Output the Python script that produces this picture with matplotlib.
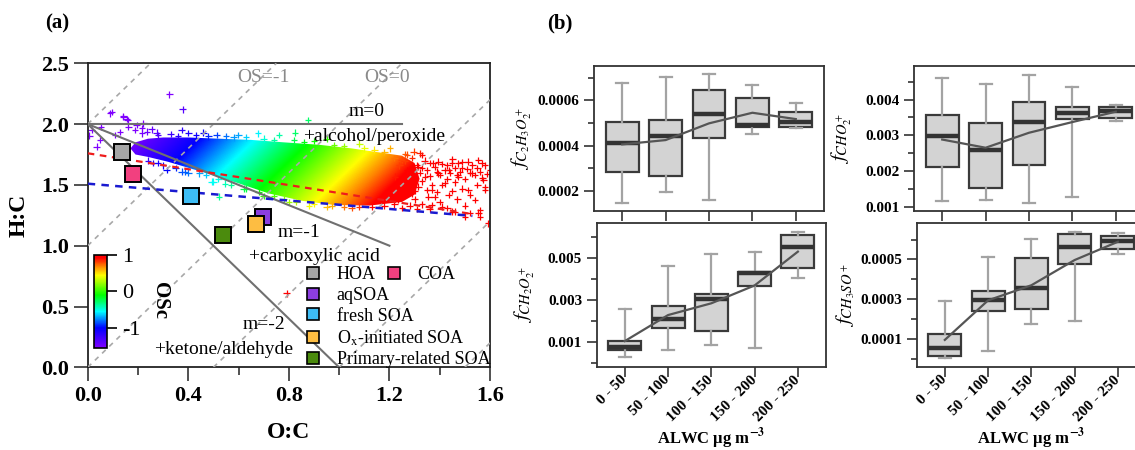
import numpy as np
import matplotlib
matplotlib.use('Agg')
import matplotlib.pyplot as plt
from matplotlib.colors import LinearSegmentedColormap, Normalize
from matplotlib.patches import Polygon
from matplotlib.lines import Line2D
from matplotlib.ticker import MultipleLocator, FormatStrFormatter

plt.rcParams['font.family'] = ['Liberation Serif', 'DejaVu Serif']
plt.rcParams['mathtext.fontset'] = 'stix'
plt.rcParams['axes.unicode_minus'] = False

# ---------------- Van Krevelen data (panel a) ----------------
factor_names = ['HOA', 'COA', 'aqSOA', 'fresh SOA',
                r'O$_{\rm x}$-initiated SOA', 'Primary-related SOA']
factor_oc = [0.138, 0.179, 0.699, 0.411, 0.669, 0.540]
factor_hc = [1.768, 1.590, 1.239, 1.409, 1.179, 1.091]
factor_colors = ['#a5a5a5', '#f2407f', '#8c3ee0', '#3dbdf5', '#fdbd42', '#4b8b0d']

# outline of the dense part of the measured O:C / H:C cloud
cloud_oc = [0.17, 0.19, 0.24, 0.30, 0.40, 0.52, 0.65, 0.78, 0.92, 1.05, 1.15,
            1.25, 1.30, 1.32, 1.30, 1.25, 1.12, 0.98, 0.85, 0.72, 0.59, 0.45,
            0.32, 0.24, 0.19]
cloud_hc = [1.80, 1.85, 1.88, 1.89, 1.89, 1.88, 1.87, 1.85, 1.83, 1.80, 1.77,
            1.74, 1.68, 1.55, 1.42, 1.36, 1.33, 1.335, 1.37, 1.43, 1.52, 1.61,
            1.69, 1.73, 1.75]

# individual points outside the dense core
pts_oc = [0.007, 0.036, 0.053, 0.089, 0.095, 0.142, 0.159, 0.195, 0.215, 0.235,
          0.254, 0.325, 0.378, 0.016, 0.049, 0.109, 0.128, 0.162, 0.188, 0.215,
          0.274, 0.221, 0.142, 0.155,
          0.374, 0.513, 0.46, 0.40, 0.599, 0.678, 0.825, 0.877, 0.76, 0.95,
          1.08, 1.202, 1.262,
          0.314, 0.374, 0.387, 0.444, 0.493, 0.50, 0.522, 0.546, 0.30, 0.26,
          0.62, 0.70, 0.80, 0.88, 0.95, 1.05,
          0.28, 0.33, 0.36, 0.43, 0.48, 0.55, 0.58, 0.63, 0.70, 0.74, 0.82,
          0.86, 0.90, 0.98, 1.02, 1.10, 1.14, 1.18,
          0.24, 0.28, 0.35, 0.40, 0.47, 0.52, 0.57, 0.63, 0.68, 0.74, 0.78,
          0.83, 0.90, 0.97, 1.02, 1.08, 1.13, 1.18, 1.22,
          1.296, 1.329, 1.395, 1.448, 1.514, 1.554, 1.567, 1.60, 1.574, 1.474,
          1.421, 1.368, 1.514, 1.540, 1.448, 1.409, 1.368, 1.554, 1.560, 1.50,
          1.58, 1.315, 1.249, 1.222, 1.289, 1.236, 1.342, 1.395, 1.435, 1.488,
          1.527, 1.474, 1.375, 1.282, 1.262, 1.315, 1.355, 1.435,
          1.22, 1.24, 1.26, 1.27, 1.28, 1.29, 1.30, 1.31, 1.32, 1.33, 1.34,
          1.35, 1.36, 1.37, 1.38, 1.39, 1.40, 1.41, 1.42, 1.43, 1.44, 1.45,
          1.46, 1.47, 1.48, 1.49, 1.50, 1.51, 1.52, 1.53, 1.54, 1.55, 1.56,
          1.57, 1.58, 1.59, 1.30, 1.33, 1.36, 1.40, 1.43, 1.46, 1.50, 1.52,
          1.28, 1.31, 1.25, 1.27, 1.29, 1.32, 1.26, 1.35, 1.38, 1.41, 1.45,
          1.47, 1.52, 1.55, 1.58, 1.33, 1.36, 1.39, 1.43, 1.46, 1.49,
          1.593, 0.791, 1.56]
pts_hc = [1.905, 1.815, 1.979, 2.089, 2.100, 2.060, 2.034, 1.993, 1.966, 1.938,
          1.957, 2.245, 2.122, 1.952, 1.869, 1.910, 1.937, 1.979, 1.952, 1.924,
          1.929, 2.007, 2.067, 2.040,
          1.952, 1.910, 1.930, 1.925, 1.910, 1.924, 1.929, 2.030, 1.910, 1.880,
          1.840, 1.800, 1.754,
          1.623, 1.609, 1.610, 1.595, 1.527, 1.527, 1.403, 1.510, 1.660, 1.680,
          1.470, 1.410, 1.360, 1.330, 1.320, 1.310,
          1.91, 1.92, 1.90, 1.91, 1.90, 1.90, 1.89, 1.89, 1.88, 1.87, 1.87,
          1.85, 1.86, 1.83, 1.82, 1.80, 1.79, 1.77,
          1.70, 1.68, 1.64, 1.60, 1.58, 1.55, 1.50, 1.47, 1.44, 1.41, 1.38,
          1.36, 1.345, 1.33, 1.32, 1.32, 1.32, 1.33, 1.34,
          1.773, 1.746, 1.691, 1.677, 1.691, 1.705, 1.677, 1.623, 1.540, 1.567,
          1.513, 1.458, 1.458, 1.376, 1.280, 1.321, 1.335, 1.272, 1.240, 1.240,
          1.460, 1.650, 1.705, 1.567, 1.431, 1.376, 1.567, 1.595, 1.623, 1.636,
          1.595, 1.677, 1.677, 1.609, 1.513, 1.486, 1.403, 1.417,
          1.72, 1.66, 1.70, 1.62, 1.56, 1.50, 1.45, 1.66, 1.60, 1.53, 1.70,
          1.62, 1.57, 1.50, 1.65, 1.44, 1.58, 1.67, 1.62, 1.55, 1.60, 1.71,
          1.64, 1.58, 1.61, 1.69, 1.55, 1.63, 1.60, 1.66, 1.58, 1.64, 1.61,
          1.56, 1.66, 1.59, 1.38, 1.34, 1.30, 1.36, 1.31, 1.28, 1.33, 1.27,
          1.33, 1.30, 1.31, 1.75, 1.72, 1.76, 1.48, 1.46, 1.40, 1.50, 1.45,
          1.38, 1.42, 1.50, 1.48, 1.64, 1.68, 1.61, 1.66, 1.52, 1.47,
          1.184, 0.609, 1.290]

# fitted trend lines
red_fit_oc = [0.0, 1.53]
red_fit_hc = [1.76, 1.26]
blue_fit_oc = [0.0, 1.53]
blue_fit_hc = [1.51, 1.245]

# functional-group slopes from (0, 2)
slope_oc = [[0.0, 1.25], [0.0, 1.2], [0.0, 1.0]]
slope_hc = [[2.0, 2.0], [2.0, 1.0], [2.0, 0.0]]
os_levels = [-2, -1, 0, 1, 2, 3]

# ---------------- box plot data (panel b) ----------------
alwc_bins = ['0 - 50', '50 - 100', '100 - 150', '150 - 200', '200 - 250']

c2h3o2_whislo = [0.000147, 0.000196, 0.000160, 0.000451, 0.000476]
c2h3o2_q1 = [0.000281, 0.000265, 0.000435, 0.000483, 0.000482]
c2h3o2_med = [0.000410, 0.000443, 0.000539, 0.000491, 0.000504]
c2h3o2_q3 = [0.000503, 0.000511, 0.000646, 0.000609, 0.000550]
c2h3o2_whishi = [0.000678, 0.000705, 0.000715, 0.000666, 0.000587]
c2h3o2_mean = [0.000405, 0.000424, 0.000498, 0.000545, 0.000517]

cho2_whislo = [0.00116, 0.00119, 0.00110, 0.00128, 0.00339]
cho2_q1 = [0.00212, 0.00151, 0.00218, 0.00346, 0.00349]
cho2_med = [0.00297, 0.00260, 0.00337, 0.00362, 0.00368]
cho2_q3 = [0.00357, 0.00335, 0.00394, 0.00379, 0.00379]
cho2_whishi = [0.00459, 0.00444, 0.00470, 0.00434, 0.00386]
cho2_mean = [0.00288, 0.00265, 0.00307, 0.00337, 0.00366]

ch2o2_whislo = [0.00025, 0.00060, 0.00083, 0.00071, 0.00405]
ch2o2_q1 = [0.00060, 0.00163, 0.00151, 0.00365, 0.00449]
ch2o2_med = [0.00076, 0.00208, 0.00302, 0.00425, 0.00549]
ch2o2_q3 = [0.00105, 0.00271, 0.00327, 0.00432, 0.00610]
ch2o2_whishi = [0.00256, 0.00460, 0.00516, 0.00525, 0.00621]
ch2o2_mean = [0.00103, 0.00227, 0.00283, 0.00368, 0.00529]

ch3so_whislo = [0.0000055, 0.0000376, 0.000176, 0.000188, 0.000525]
ch3so_q1 = [0.0000139, 0.000238, 0.000250, 0.000476, 0.000554]
ch3so_med = [0.0000561, 0.000294, 0.000357, 0.000564, 0.000595]
ch3so_q3 = [0.000127, 0.000341, 0.000507, 0.000627, 0.000618]
ch3so_whishi = [0.000290, 0.000510, 0.000605, 0.000638, 0.000633]
ch3so_mean = [0.0000949, 0.000294, 0.000370, 0.000497, 0.000589]

W, H = 1135, 450


def px_axes(fig, x0, y0, x1, y1):
    # axes from pixel box (top-left origin)
    return fig.add_axes([x0 / W, 1 - y1 / H, (x1 - x0) / W, (y1 - y0) / H])


fig = plt.figure(figsize=(W / 100, H / 100), dpi=100)

# OSc colour scale
cmap = LinearSegmentedColormap.from_list('osc', [
    (0.0, '#8000ff'), (0.216, '#0000ff'), (0.392, '#00ffff'),
    (0.57, '#00ff00'), (0.784, '#ffff00'), (0.882, '#ff8000'),
    (0.97, '#ff0000'), (1.0, '#ff0000')])
norm = Normalize(vmin=-1.55, vmax=1.0)

ax = px_axes(fig, 87.7, 63.3, 490, 367.3)

gx = np.linspace(0, 1.6, 400)
gy = np.linspace(0, 2.5, 400)
GX, GY = np.meshgrid(gx, gy)
im = ax.imshow(2 * GX - GY, extent=(0, 1.6, 0, 2.5), origin='lower',
               cmap=cmap, norm=norm, aspect='auto', zorder=1,
               interpolation='bilinear')
core = Polygon(np.column_stack([cloud_oc, cloud_hc]), closed=True,
               facecolor='none', edgecolor='none', transform=ax.transData)
ax.add_patch(core)
im.set_clip_path(core)

pts_oc = np.array(pts_oc)
pts_hc = np.array(pts_hc)
ax.scatter(pts_oc, pts_hc, c=2 * pts_oc - pts_hc, cmap=cmap, norm=norm,
           marker='+', s=22, linewidths=0.9, zorder=2)

for os_val in os_levels:
    ax.axline((0, -os_val), slope=2, color='#a8a8a8', lw=1.2,
              ls=(0, (3, 3)), zorder=3)

for xs, ys in zip(slope_oc, slope_hc):
    ax.plot(xs, ys, color='#707070', lw=1.5, zorder=4)

ax.plot(red_fit_oc, red_fit_hc, color='#ee1c1c', lw=1.6, ls=(0, (3, 2.5)), zorder=4)
ax.plot(blue_fit_oc, blue_fit_hc, color='#1a1ad0', lw=1.8, ls=(0, (3, 2.5)), zorder=4)

for oc, hc, col in zip(factor_oc, factor_hc, factor_colors):
    ax.plot(oc, hc, ls='none', marker='s', ms=11.5, mfc=col, mec='black',
            mew=1.4, zorder=6)

txt = dict(fontsize=14, ha='center', va='center', zorder=5)
ax.text(0.70, 2.38, 'OS=-1', color='#8a8a8a', **txt)
ax.text(1.19, 2.38, 'OS=0', color='#8a8a8a', **txt)
ax.text(1.11, 2.10, 'm=0', **txt)
ax.text(1.14, 1.90, '+alcohol/peroxide', **txt)
ax.text(0.84, 1.11, 'm=-1', **txt)
ax.text(0.90, 0.91, '+carboxylic acid', **txt)
ax.text(0.70, 0.35, 'm=-2', **txt)
ax.text(0.54, 0.15, '+ketone/aldehyde', **txt)

ax.set_xlim(0, 1.6)
ax.set_ylim(0, 2.5)
ax.xaxis.set_major_locator(MultipleLocator(0.4))
ax.xaxis.set_minor_locator(MultipleLocator(0.2))
ax.yaxis.set_major_locator(MultipleLocator(0.5))
ax.xaxis.set_major_formatter(FormatStrFormatter('%.1f'))
ax.yaxis.set_major_formatter(FormatStrFormatter('%.1f'))
ax.tick_params(which='major', direction='out', length=10, width=1.2,
               labelsize=16, color='#333333')
ax.tick_params(which='minor', direction='out', length=6, width=1.2,
               color='#333333')
for lab in ax.get_xticklabels() + ax.get_yticklabels():
    lab.set_fontweight('bold')
for sp in ax.spines.values():
    sp.set_linewidth(1.3)
    sp.set_color('#222222')
ax.set_xlabel('O:C', fontsize=17, fontweight='bold')
ax.set_ylabel('H:C', fontsize=17, fontweight='bold')
ax.xaxis.set_label_coords(0.5, -0.18)
ax.yaxis.set_label_coords(-0.145, 0.5)


def square(i, ms=9):
    return Line2D([], [], ls='none', marker='s', ms=ms, mfc=factor_colors[i],
                  mec='black', mew=1.2, label=factor_names[i])


# legend: HOA and COA share the first row, the rest stack below
leg_style = dict(frameon=False, fontsize=13, handletextpad=0.8,
                 labelspacing=0.2, borderaxespad=0.0, borderpad=0.0,
                 handlelength=1.0, loc='upper left')
leg1 = ax.legend(handles=[square(0), square(1)], ncol=2, columnspacing=0.5,
                 bbox_to_anchor=(0.5377, 0.332), **leg_style)
ax.add_artist(leg1)
ax.legend(handles=[square(i) for i in (2, 3, 4, 5)],
          bbox_to_anchor=(0.5377, 0.264), **leg_style)

# OSc colour bar inside panel a
cax = px_axes(fig, 94, 255, 107, 348)
sm = plt.cm.ScalarMappable(cmap=cmap, norm=norm)
cb = fig.colorbar(sm, cax=cax, ticks=[-1, 0, 1])
cb.ax.tick_params(direction='out', length=7, width=1.2, labelsize=16, pad=4)
cb.outline.set_linewidth(1.2)
fig.text(160 / W, 1 - 300 / H, 'OSc', fontsize=15, fontweight='bold',
         rotation=270, ha='center', va='center')

fig.text(57 / W, 1 - 23 / H, '(a)', fontsize=15, fontweight='bold',
         ha='center', va='center')
fig.text(560 / W, 1 - 23 / H, '(b)', fontsize=15, fontweight='bold',
         ha='center', va='center')

# ---------------- panel b ----------------
panels = [
    ((594, 66, 824, 211), c2h3o2_whislo, c2h3o2_q1, c2h3o2_med, c2h3o2_q3,
     c2h3o2_whishi, c2h3o2_mean, r'$f_{C_2H_3O_2^+}$',
     (0.00011, 0.000752), [0.0002, 0.0004, 0.0006], 0.0001, '%.4f', False),
    ((914, 66, 1144, 211), cho2_whislo, cho2_q1, cho2_med, cho2_q3,
     cho2_whishi, cho2_mean, r'$f_{CHO_2^+}$',
     (0.000878, 0.00494), [0.001, 0.002, 0.003, 0.004], 0.0005, '%.3f', False),
    ((596.7, 223.3, 826, 366.7), ch2o2_whislo, ch2o2_q1, ch2o2_med, ch2o2_q3,
     ch2o2_whishi, ch2o2_mean, r'$f_{CH_2O_2^+}$',
     (-0.00019, 0.00664), [0.001, 0.003, 0.005], 0.001, '%.3f', True),
    ((916.7, 223.3, 1146, 366.7), ch3so_whislo, ch3so_q1, ch3so_med, ch3so_q3,
     ch3so_whishi, ch3so_mean, r'$f_{CH_3SO^+}$',
     (-0.00004, 0.000682), [0.0001, 0.0003, 0.0005], 0.0001, '%.4f', True),
]

pos = np.arange(1, 6)
for (box, wlo, q1, med, q3, whi, mean, ylab, ylim, yticks, minor, fmt,
     bottom) in panels:
    bx = px_axes(fig, *box)
    stats = [dict(whislo=a, q1=b, med=c, q3=d, whishi=e, fliers=[])
             for a, b, c, d, e in zip(wlo, q1, med, q3, whi)]
    bx.bxp(stats, positions=pos, widths=0.76, capwidths=0.28, patch_artist=True,
           showfliers=False,
           boxprops=dict(facecolor='#d3d3d3', edgecolor='#3a3a3a', linewidth=1.6),
           medianprops=dict(color='#333333', linewidth=3.2),
           whiskerprops=dict(color='#a3a3a3', linewidth=1.6),
           capprops=dict(color='#a3a3a3', linewidth=1.6))
    bx.plot(pos, mean, color='#555555', lw=1.6, zorder=5)
    bx.set_xlim(0.35, 5.65)
    bx.set_ylim(*ylim)
    bx.set_yticks(yticks)
    bx.yaxis.set_minor_locator(MultipleLocator(minor))
    bx.yaxis.set_major_formatter(FormatStrFormatter(fmt))
    bx.set_xticks(pos)
    if bottom:
        bx.set_xticklabels(alwc_bins, rotation=45, ha='right', va='center',
                           rotation_mode='anchor', fontsize=10.5,
                           fontweight='bold')
        bx.set_xlabel(r'ALWC µg m$^{\mathbf{-3}}$', fontsize=12,
                      fontweight='bold', va='center')
        bx.xaxis.set_label_coords(0.5, -0.505)
    else:
        bx.set_xticklabels([])
    bx.tick_params(which='major', direction='out', length=7, width=1.2,
                   labelsize=11, color='#333333')
    bx.tick_params(axis='x', which='major', pad=1)
    bx.tick_params(which='minor', direction='out', length=4, width=1.2,
                   color='#333333')
    for lab in bx.get_yticklabels():
        lab.set_fontweight('bold')
    for sp in bx.spines.values():
        sp.set_linewidth(1.3)
        sp.set_color('#333333')
    bx.set_ylabel(ylab, fontsize=15)
    bx.yaxis.set_label_coords(-0.26, 0.5)

fig.savefig('out.png', dpi=100)
